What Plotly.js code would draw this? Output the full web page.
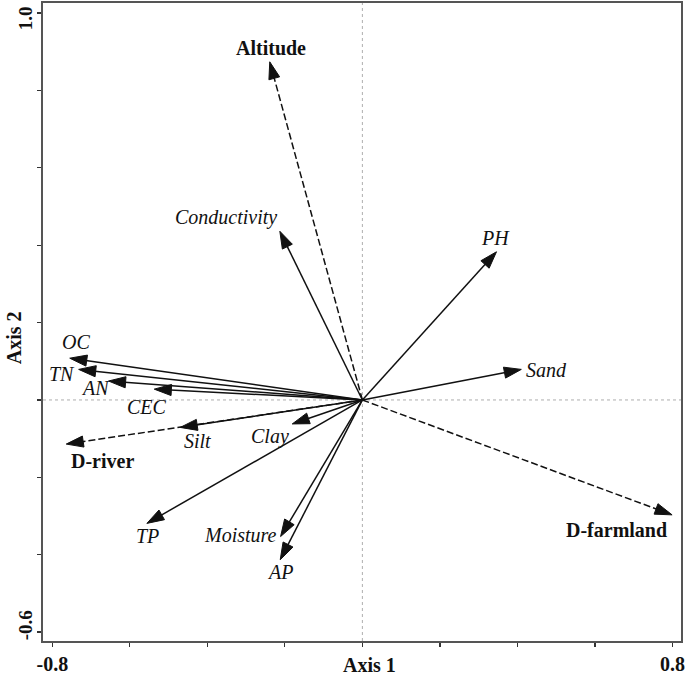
<!DOCTYPE html>
<html><head><meta charset="utf-8">
<script src="https://cdn.plot.ly/plotly-3.0.1.min.js"></script>
<style>html,body{margin:0;padding:0;background:#fff}</style>
</head><body><div id="chart" style="width:685px;height:680px"></div>
<script>
// ---- data ----
const variables = ['Altitude','Conductivity','PH','Sand','D-farmland','OC','TN','AN','CEC','Silt','D-river','Clay','TP','Moisture','AP'];
const axis1 = [-0.239,-0.213,0.346,0.410,0.799,-0.755,-0.732,-0.655,-0.537,-0.470,-0.764,-0.181,-0.556,-0.211,-0.212];
const axis2 = [0.874,0.436,0.383,0.079,-0.297,0.108,0.079,0.049,0.028,-0.071,-0.114,-0.062,-0.319,-0.353,-0.413];
const isFactor = [true,false,false,false,true,false,false,false,false,false,true,false,false,false,false];
const xTickVals = [-0.8,-0.6,-0.4,-0.2,0,0.2,0.4,0.6,0.8];
const xTickText = ['-0.8','','','','','','','','0.8'];
const yTickVals = [-0.6,-0.4,-0.2,0,0.2,0.4,0.6,0.8,1.0];
const yTickText = ['-0.6','','','','','','','','1.0'];

// ---- style: label pixel offsets relative to arrow tips ----
const labelShift = [[1,14],[-54,14],[-1,14],[25,-1],[-56,-15],[6,16],[-17,-5],[-13,-7],[-7,-18],[17,-14],[36,-17],[-22,-13],[1,-13],[-40,2],[0,-12]];
const yLabelShift = {'-0.6': 7, '1.0': -5};

const FONT = '"Liberation Serif", "Times New Roman", serif';
const INK = '#111111';
const traces = [];
const annotations = [];
variables.forEach((v, i) => {
  const x = axis1[i], y = axis2[i];
  traces.push({
    type: 'scatter', mode: 'lines+markers', x: [0, x], y: [0, y],
    line: {color: INK, width: 1.5, dash: isFactor[i] ? '7px,3px' : 'solid'},
    marker: {symbol: 'arrow', angleref: 'previous', size: [0, 18], color: INK, opacity: 1, line: {width: 1, color: INK}},
    hoverinfo: 'skip', showlegend: false
  });
  annotations.push({
    x: x, y: y, xref: 'x', yref: 'y', showarrow: false,
    text: v, xshift: labelShift[i][0], yshift: labelShift[i][1],
    xanchor: 'center', yanchor: 'middle',
    font: {family: FONT, size: 20, color: INK, style: isFactor[i] ? 'normal' : 'italic', weight: isFactor[i] ? 'bold' : 'normal'}
  });
});
// y tick labels (rotated) as annotations
yTickVals.forEach((v, i) => {
  const t = yTickText[i];
  if (!t) return;
  annotations.push({
    text: t, xref: 'paper', yref: 'y', x: -0.028, y: v, yshift: yLabelShift[t] || 0,
    xanchor: 'center', yanchor: 'middle', showarrow: false, textangle: -90,
    font: {family: FONT, size: 19, color: INK, weight: 'bold'}
  });
});
annotations.push({
  text: 'Axis 1', xref: 'paper', yref: 'paper', x: 0.5125, y: -0.0376,
  xanchor: 'center', yanchor: 'middle', showarrow: false,
  font: {family: FONT, size: 20, color: INK, weight: 'bold'}
});
annotations.push({
  text: 'Axis 2', xref: 'paper', yref: 'paper', x: -0.045, y: 0.475,
  xanchor: 'center', yanchor: 'middle', showarrow: false, textangle: -90,
  font: {family: FONT, size: 20, color: INK, weight: 'bold'}
});

const axisCommon = {
  showgrid: false, zeroline: false, showline: true, mirror: true,
  linecolor: '#555', linewidth: 1.8, ticks: 'outside', ticklen: 4, tickwidth: 1.2,
  tickcolor: '#333', tickmode: 'array', ticklabeloverflow: 'allow',
  tickfont: {family: FONT, size: 20, color: INK, weight: 'bold'}
};

const layout = {
  width: 685, height: 680,
  margin: {l: 43, r: 4, t: 3, b: 39},
  paper_bgcolor: '#fff', plot_bgcolor: '#fff',
  xaxis: Object.assign({}, axisCommon, {range: [-0.824, 0.822], tickvals: xTickVals, ticktext: xTickText}),
  yaxis: Object.assign({}, axisCommon, {range: [-0.623, 1.026], tickvals: yTickVals, showticklabels: false}),
  shapes: [
    {type: 'line', xref: 'x', yref: 'paper', x0: 0, x1: 0, y0: 0, y1: 1, line: {color: '#999', width: 0.8, dash: 'dot'}, layer: 'below'},
    {type: 'line', xref: 'paper', yref: 'y', x0: 0, x1: 1, y0: 0, y1: 0, line: {color: '#999', width: 0.8, dash: 'dot'}, layer: 'below'}
  ],
  annotations: annotations
};

Plotly.newPlot('chart', traces, layout, {displayModeBar: false, staticPlot: true});
</script>
</body></html>
